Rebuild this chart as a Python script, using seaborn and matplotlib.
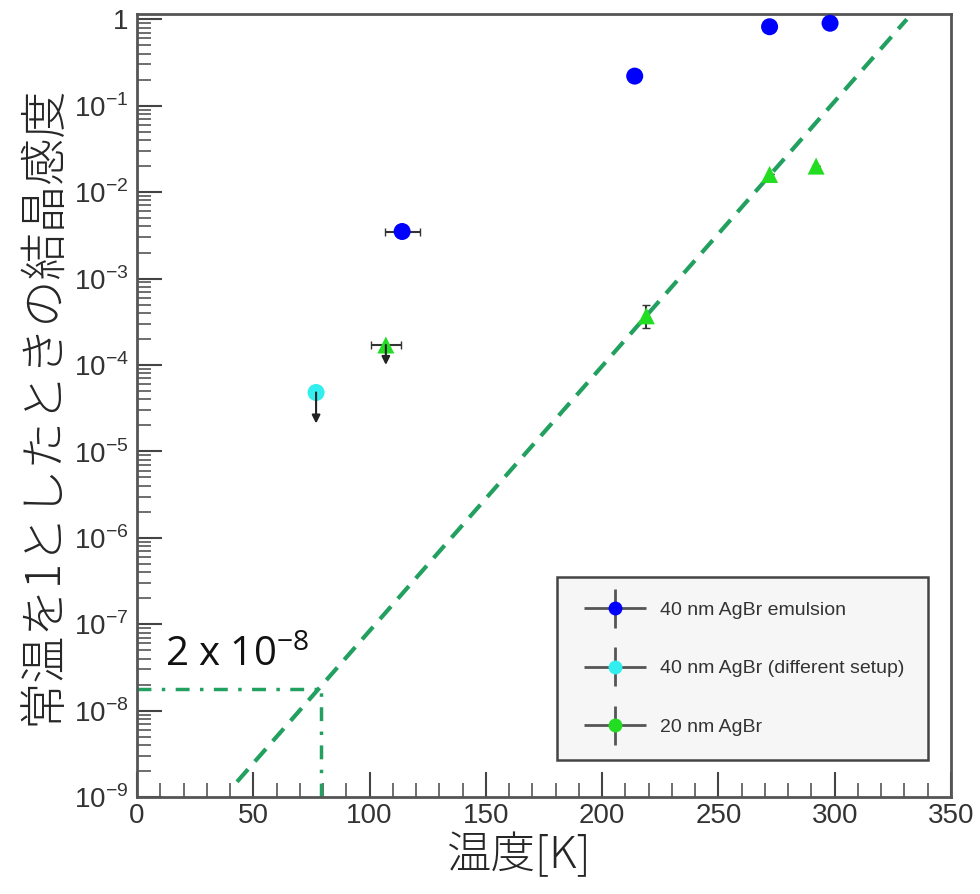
import numpy as np
import pandas as pd
import matplotlib
matplotlib.use('Agg')
import matplotlib.pyplot as plt
import matplotlib.ticker as mticker
from matplotlib.legend_handler import HandlerErrorbar
import seaborn as sns

sns.set_style("ticks")
plt.rcParams['font.family'] = ['Liberation Sans', 'Noto Sans CJK JP', 'DejaVu Sans']
plt.rcParams['mathtext.fontset'] = 'custom'
plt.rcParams['mathtext.rm'] = 'Liberation Sans'
plt.rcParams['axes.unicode_minus'] = False

# data
blue_T = [114, 214, 272, 298]
blue_S = [3.5e-3, 0.22, 0.82, 0.9]
blue_Terr = [7.5, 0, 0, 0]

cyan_T = [77]
cyan_S = [4.8e-5]
cyan_lim = [2.1e-5]

green_T = [107, 219, 272, 292]
green_S = [1.7e-4, 3.7e-4, 1.6e-2, 2.0e-2]
green_Terr = [6.5, 0, 0, 0]
green_Slo = [0, 1.0e-4, 0, 0]
green_Shi = [0, 1.2e-4, 0, 0]
green_lim = [1.0e-4, None, None, None]

fit_T = [43, 331]
fit_S = [1.5e-9, 1.0]
cross_T = 79
cross_S = 1.8e-8

decades = list(range(-9, 1))

labels = ['40 nm AgBr emulsion', '40 nm AgBr (different setup)', '20 nm AgBr']
colors = ['#0000ff', '#33eeee', '#22dd22']

df = pd.DataFrame({
    'T': blue_T + cyan_T + green_T,
    'S': blue_S + cyan_S + green_S,
    'series': [labels[0]] * 4 + [labels[1]] + [labels[2]] * 4,
})

fig = plt.figure(figsize=(9.8, 8.94), dpi=100)
ax = fig.add_axes([0.1398, 0.1085, 0.8306, 0.8758])
ax.set_yscale('log')

ecol = '#333333'
ax.errorbar(blue_T, blue_S, xerr=blue_Terr, fmt='none', ecolor=ecol, capsize=3, lw=1.5)
ax.errorbar(green_T, green_S, xerr=green_Terr, yerr=[green_Slo, green_Shi],
            fmt='none', ecolor=ecol, capsize=3, lw=1.5)

sns.scatterplot(data=df, x='T', y='S', hue='series', style='series',
                palette=dict(zip(labels, colors)),
                markers=dict(zip(labels, ['o', 'o', '^'])),
                s=150, edgecolor='none', legend=False, ax=ax, zorder=3)

# upper limit arrows
for t, s, lo in zip(cyan_T + green_T, cyan_S + green_S, cyan_lim + green_lim):
    if lo is None:
        continue
    ax.annotate('', xy=(t, lo), xytext=(t, s),
                arrowprops=dict(arrowstyle='-|>', color='#222222', lw=1.5,
                                mutation_scale=12, shrinkA=0, shrinkB=0))

line_col = '#22a060'
ax.plot(fit_T, fit_S, ls=(0, (4, 2.5)), color=line_col, lw=3)
ax.plot([0, cross_T], [cross_S, cross_S], ls=(0, (4, 3, 1, 3)), color=line_col, lw=2.5)
ax.plot([cross_T, cross_T], [1e-9, cross_S], ls=(0, (4, 3, 1, 3)), color=line_col, lw=2.5)

ax.text(12, 10**-7.37, r'2 x 10$^{\mathregular{-8}}$', fontsize=29,
        family=['Open Sans', 'DejaVu Sans'], color='#111111', va='center')

ax.set_xlim(0, 350)
ax.set_ylim(1e-9, 1.15)

ax.xaxis.set_major_locator(mticker.MultipleLocator(50))
ax.xaxis.set_minor_locator(mticker.MultipleLocator(10))
major_y = [10.0 ** e for e in decades]
minor_y = [m * 10.0 ** e for e in decades[:-1] for m in range(2, 10)]
ax.yaxis.set_major_locator(mticker.FixedLocator(major_y))
ax.yaxis.set_minor_locator(mticker.FixedLocator(minor_y))
ax.yaxis.set_minor_formatter(mticker.NullFormatter())


def fmt_y(v, pos):
    e = int(round(np.log10(v)))
    if e == 0:
        return '1'
    return r'10$^{\mathregular{%d}}$' % e


ax.yaxis.set_major_formatter(mticker.FuncFormatter(fmt_y))

ax.tick_params(axis='both', which='major', direction='in', length=18, width=1.5,
               colors='#444444', labelsize=20, labelcolor='#333333')
ax.tick_params(axis='both', which='minor', direction='in', length=10, width=1.2,
               colors='#555555')
ax.tick_params(axis='x', pad=4)
ax.tick_params(axis='y', pad=6)

for sp in ax.spines.values():
    sp.set_color('#555555')
    sp.set_linewidth(2)

ax.set_xlabel('温度[K]', fontsize=32, family=['Noto Sans CJK JP'], fontweight='light')
ax.xaxis.set_label_coords(0.47, -0.075, transform=ax.transAxes)
ax.xaxis.label.set_va('center')
ax.set_ylabel('常温を1としたときの結晶感度', fontsize=34, family=['Noto Sans CJK JP'],
              fontweight='light', labelpad=4)

# legend with error-bar style handles
handles = []
for lab, col in zip(labels, colors):
    h = ax.errorbar([np.nan], [np.nan], xerr=[1], yerr=[1], fmt='o', color=col,
                    ecolor='#555555', ms=10, mec='none', lw=2, label=lab)
    handles.append(h)
leg = ax.legend(handles=handles, loc='lower right', bbox_to_anchor=(0.972, 0.047),
                fontsize=14, frameon=True, fancybox=False, borderpad=1.25,
                labelspacing=2.1, handlelength=3.4, handletextpad=0.6,
                borderaxespad=0,
                handler_map={type(handles[0]): HandlerErrorbar(xerr_size=1.6, yerr_size=1.0)})
leg.get_frame().set_facecolor('#f6f6f6')
leg.get_frame().set_edgecolor('#444444')
leg.get_frame().set_linewidth(1.8)
leg.get_frame().set_alpha(1)
for t in leg.get_texts():
    t.set_color('#333333')

fig.savefig('out.png', dpi=100)
